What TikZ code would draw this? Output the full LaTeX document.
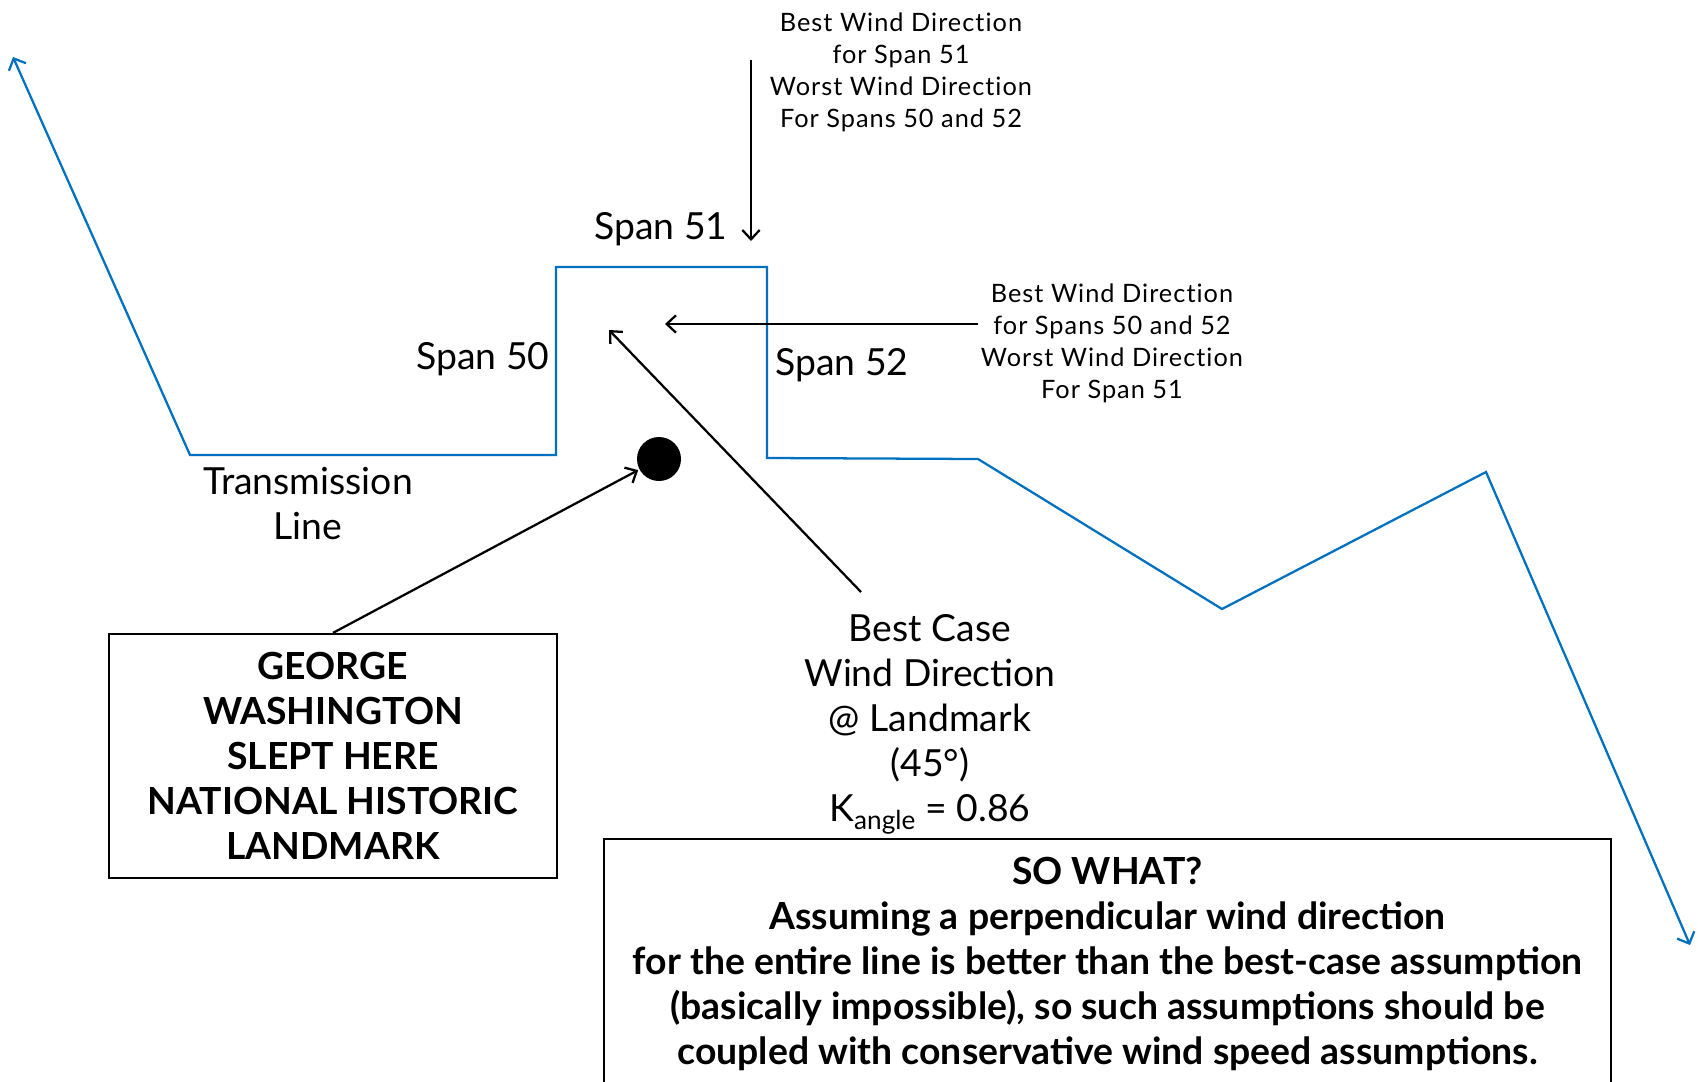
\documentclass[tikz,border=0pt]{standalone}
\usepackage{fontspec}
\setmainfont{Lato}
\usetikzlibrary{arrows.meta}
\definecolor{lineblue}{RGB}{0,112,192}
\newcommand*\spanfont{\fontsize{28}{34}\selectfont}
\newcommand*\notefont{\fontsize{19}{24}\selectfont\addfontfeatures{LetterSpace=4,Ligatures=NoCommon}}
\newcommand*\bigfont {\fontsize{28}{33.75}\selectfont}
\tikzset{
    txline/.style    = {draw=lineblue, line width=1.7pt,
                        {Straight Barb[length=7pt,width=14pt]}-{Straight Barb[length=7pt,width=14pt]}},
    windarrow/.style = {draw, line width=1.7pt, -{Straight Barb[length=7pt,width=13pt]}},
    spanlabel/.style = {font=\spanfont, inner sep=0pt},
    note/.style      = {font=\notefont, align=center, inner sep=0pt},
    caption/.style   = {font=\bigfont, align=center, inner sep=0pt},
    infobox/.style   = {draw, line width=1.7pt, font=\bigfont\bfseries, align=center, inner sep=0pt},
  }

\begin{document}
\begin{tikzpicture}[x=0.75pt, y=-0.75pt]
    \useasboundingbox (0,0) rectangle (1698,1081);

    % Transmission line, drawn as one polyline
    \draw[txline] (13,57) -- (190,455) -- (556,455) -- (556,267) -- (767,267)
        -- (767,458) -- (978,459) -- (1222,609) -- (1486,472) -- (1690,945);

    % Span labels
    \foreach \n/\x/\y in {50/483/359, 51/661/229, 52/842/365} {
        \node[spanlabel] (span\n) at (\x,\y) {Span \n};
    }
    \node[caption] (txlabel) at (308,504) {Transmission\\Line};

    % Wind direction notes
    \node[note] (topnote)  at (901,72)  {Best Wind Direction\\for Span 51\\Worst Wind Direction\\For Spans 50 and 52};
    \node[note] (sidenote) at (1112,343) {Best Wind Direction\\for Spans 50 and 52\\Worst Wind Direction\\For Span 51};
    \node[caption] (bestcase) at (930,724) {Best Case\\Wind Direction\\@ Landmark\\(45°)\\K\textsubscript{angle} = 0.86};

    % Landmark and boxes
    \node[circle, fill, minimum size=33pt, inner sep=0pt] (landmarkdot) at (659,459) {};
    \node[infobox, minimum width=336pt, minimum height=183pt] (landmark) at (333,756)
        {GEORGE\\WASHINGTON\\SLEPT HERE\\NATIONAL HISTORIC\\LANDMARK};
    \node[infobox, minimum width=755pt, minimum height=187.5pt] (sowhat) at (1107.5,964)
        {SO WHAT?\\Assuming a perpendicular wind direction\\for the entire line is better than the best-case assumption\\(basically impossible), so such assumptions should be\\coupled with conservative wind speed assumptions.};

    % Wind arrows
    \coordinate (perptail) at (751,60);
    \coordinate (perptip)  at (751,241);
    \coordinate (paratail) at (978,324);
    \coordinate (paratip)  at (665,324);
    \coordinate (besttail) at (861,592);
    \coordinate (besttip)  at (609,330);
    \draw[windarrow] (perptail) -- (perptip);
    \draw[windarrow] (paratail) -- (paratip);
    \draw[windarrow] (besttail) -- (besttip);
    \draw[windarrow, shorten >=1pt] (landmark.north) -- (landmarkdot);
\end{tikzpicture}
\end{document}
